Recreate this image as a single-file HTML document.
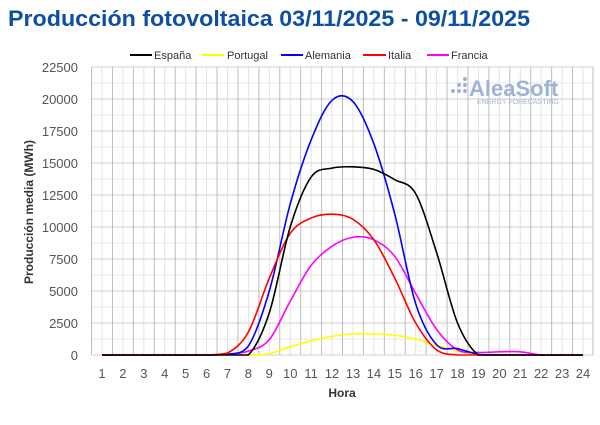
<!DOCTYPE html>
<html><head><meta charset="utf-8"><style>
body{margin:0;background:#fff;width:600px;height:420px;overflow:hidden;font-family:"Liberation Sans",sans-serif}
</style></head><body>
<svg id="s" width="600" height="420" xmlns="http://www.w3.org/2000/svg" font-family="Liberation Sans, sans-serif">
<text x="8" y="26" font-size="22.5" font-weight="bold" fill="#0d4fa3" textLength="522" lengthAdjust="spacingAndGlyphs">Producción fotovoltaica 03/11/2025 - 09/11/2025</text>
<g id="grid"></g>
<g font-size="11" fill="#333">
<line x1="130" y1="55" x2="152" y2="55" stroke="#000" stroke-width="2"/><text x="154" y="59">España</text>
<line x1="202" y1="55" x2="224" y2="55" stroke="#ff0" stroke-width="2"/><text x="227" y="59">Portugal</text>
<line x1="281" y1="55" x2="303" y2="55" stroke="#00f" stroke-width="2"/><text x="305" y="59">Alemania</text>
<line x1="363" y1="55" x2="386" y2="55" stroke="#f00" stroke-width="2"/><text x="388" y="59">Italia</text>
<line x1="427" y1="55" x2="449" y2="55" stroke="#f0f" stroke-width="2"/><text x="451" y="59">Francia</text>
</g>
<g fill="#9fb3d6">
<circle cx="453" cy="91" r="2"/><circle cx="459" cy="91" r="2"/><circle cx="465" cy="91" r="2"/><circle cx="465" cy="85" r="2"/><circle cx="465" cy="79" r="2"/><circle cx="459" cy="85" r="2"/>
<text x="469" y="96" font-size="22" font-weight="bold">AleaSoft</text>
<text x="477" y="104" font-size="7">ENERGY FORECASTING</text>
</g>
<g id="series" fill="none" stroke-width="1.6"></g>
<text transform="translate(33,212) rotate(-90)" text-anchor="middle" font-size="12" font-weight="bold" fill="#333">Producción media (MWh)</text>
<text x="342" y="397" text-anchor="middle" font-size="12" font-weight="bold" fill="#333">Hora</text>
</svg>
<script>
const NS="http://www.w3.org/2000/svg";
const g=document.getElementById('grid');
const L=92,R=593,Y0=355,Ytop=67;
const X=h=>102+(h-1)*(583-102)/23;
const Y=v=>Y0-v*(Y0-Ytop)/22500;
function ln(x1,y1,x2,y2,c){const l=document.createElementNS(NS,'line');l.setAttribute('x1',x1);l.setAttribute('y1',y1);l.setAttribute('x2',x2);l.setAttribute('y2',y2);l.setAttribute('stroke',c);l.setAttribute('stroke-width',1);g.appendChild(l);}
function tx(x,y,s,a){const t=document.createElementNS(NS,'text');t.setAttribute('x',x);t.setAttribute('y',y);t.setAttribute('font-size','13');t.setAttribute('fill','#555');t.setAttribute('text-anchor',a);t.textContent=s;g.appendChild(t);}
for(let v=0;v<=22500;v+=1250){ln(L,Y(v),R,Y(v),v%2500==0?'#cfcfcf':'#e8e8e8');}
for(let v=0;v<=22500;v+=2500)tx(78,Y(v)+5,v,'end');
for(let h=1;h<=24;h++){ln(X(h),Ytop,X(h),Y0,'#e2e2e2');ln(X(h)-10.45,Ytop,X(h)-10.45,Y0,'#bdbdbd');tx(X(h),378,h,'middle');}
ln(R,Ytop,R,Y0,'#bdbdbd');
const D={
'#000':[0,0,0,0,0,0,0,0,3300,10000,13900,14600,14700,14500,13700,12600,8000,2500,0,0,0,0,0,0],
'#ff0':[0,0,0,0,0,0,0,0,100,650,1100,1450,1650,1650,1550,1250,750,300,0,0,0,0,0,0],
'#00f':[0,0,0,0,0,0,50,700,5000,11800,16800,19900,19800,16500,11000,4000,800,500,50,0,0,0,0,0],
'#f00':[0,0,0,0,0,0,150,1800,6000,9500,10700,11000,10600,9000,6000,2500,400,0,0,0,0,0,0,0],
'#f0f':[0,0,0,0,0,0,50,300,1200,4200,7000,8500,9200,9000,7700,4800,2000,400,200,250,250,0,0,0]};
const s=document.getElementById('series');
for(const c of ['#ff0','#f0f','#00f','#f00','#000']){
 const v=D[c];const p=v.map((y,i)=>[X(i+1),Y(y)]);
 let d='M'+p[0][0]+','+p[0][1];
 for(let i=0;i<p.length-1;i++){const p0=p[Math.max(i-1,0)],p1=p[i],p2=p[i+1],p3=p[Math.min(i+2,p.length-1)];const t=6;
 d+=` C${p1[0]+(p2[0]-p0[0])/t},${Math.min(Y0,p1[1]+(p2[1]-p0[1])/t)} ${p2[0]-(p3[0]-p1[0])/t},${Math.min(Y0,p2[1]-(p3[1]-p1[1])/t)} ${p2[0]},${p2[1]}`;}
 const e=document.createElementNS(NS,'path');e.setAttribute('d',d);e.setAttribute('stroke',c);s.appendChild(e);}
</script>
</body></html>
